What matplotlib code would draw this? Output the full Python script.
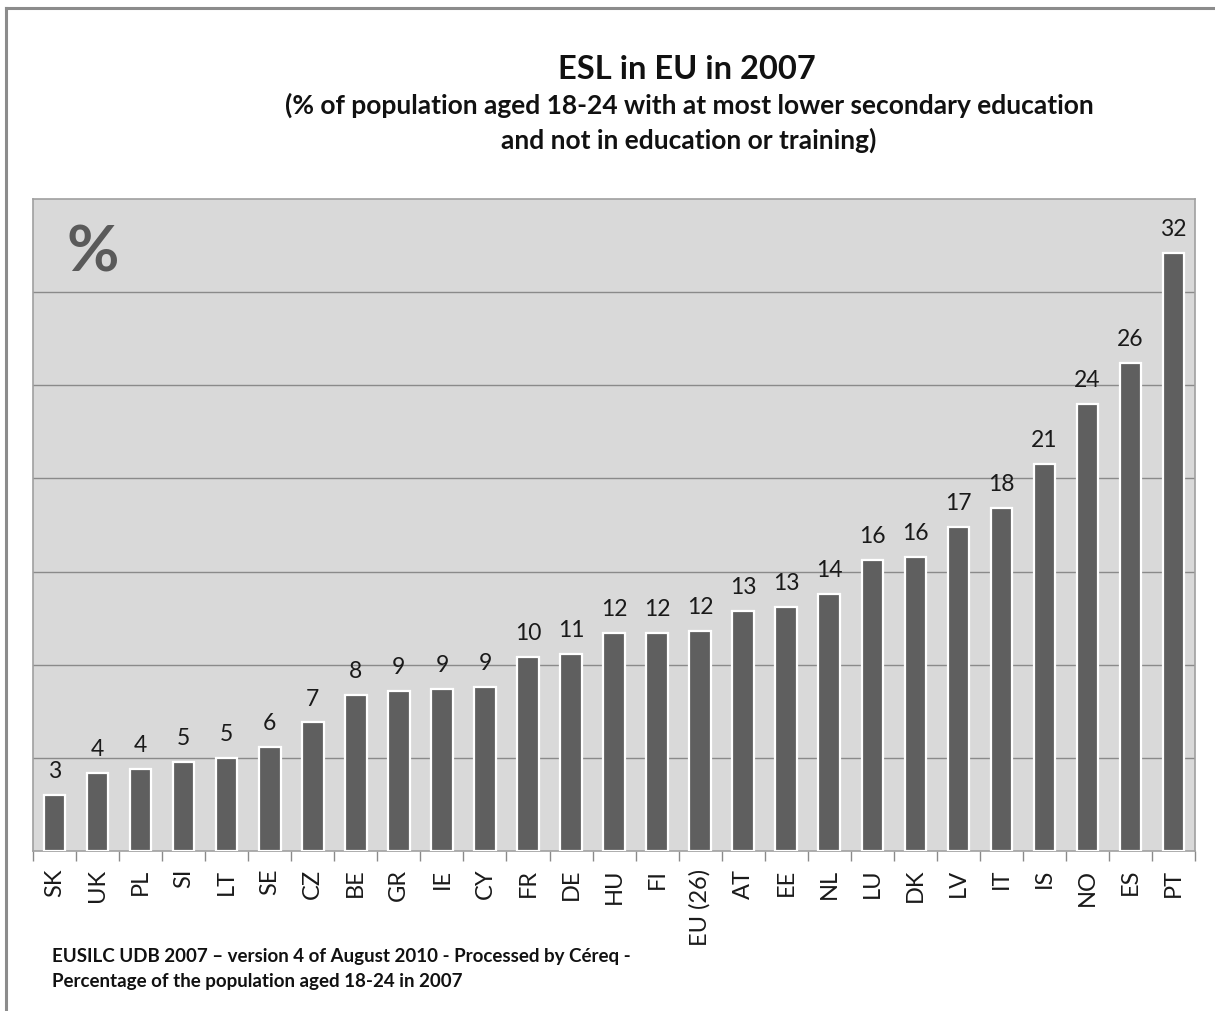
import numpy as np
import matplotlib.pyplot as plt
from matplotlib.lines import Line2D

plt.rcParams['font.family'] = ['Lato', 'DejaVu Sans']

countries = ['SK', 'UK', 'PL', 'SI', 'LT', 'SE', 'CZ', 'BE', 'GR', 'IE', 'CY',
             'FR', 'DE', 'HU', 'FI', 'EU (26)', 'AT', 'EE', 'NL', 'LU', 'DK',
             'LV', 'IT', 'IS', 'NO', 'ES', 'PT']
esl = [3.0, 4.2, 4.4, 4.8, 5.0, 5.6, 6.9, 8.4, 8.6, 8.7, 8.8,
       10.4, 10.6, 11.7, 11.7, 11.8, 12.9, 13.1, 13.8, 15.6, 15.8,
       17.4, 18.4, 20.8, 24.0, 26.2, 32.1]

fig = plt.figure(figsize=(12.15, 10.12), dpi=100)
ax = fig.add_axes([0.0272, 0.1581, 0.9564, 0.6443])

x = np.arange(len(countries))
ax.bar(x, esl, width=0.5, color='#5f5f5f', edgecolor='white', linewidth=1.6, zorder=3)

for xi, v in zip(x, esl):
    ax.annotate(str(int(v + 0.5)), (xi, v), xytext=(0, 10), textcoords='offset points',
                ha='center', va='bottom', fontsize=16.5, color='#1a1a1a')

ax.set_xlim(-0.5, len(countries) - 0.5)
ax.set_ylim(0, 35)
ax.set_facecolor('#d9d9d9')
ax.set_yticks(np.arange(5, 35, 5))
ax.yaxis.grid(True, color='#8a8a8a', linewidth=1)
ax.tick_params(axis='y', left=False, labelleft=False)

# ticks sit on the category boundaries, labels in the middle
ax.set_xticks(x)
ax.set_xticklabels(countries, rotation=90, fontsize=17, color='#1a1a1a')
ax.tick_params(axis='x', length=0, pad=12)
ax.set_xticks(np.arange(-0.5, len(countries), 1), minor=True)
ax.tick_params(axis='x', which='minor', length=7, color='#8a8a8a', width=1)

for side in ax.spines.values():
    side.set_color('#a0a0a0')
    side.set_linewidth(1.2)

ax.text(0.029, 0.962, '%', transform=ax.transAxes, ha='left', va='top',
        fontsize=46, fontweight='bold', color='#5a5a5a')

fig.text(0.565, 0.931, 'ESL in EU in 2007', ha='center', va='center',
         fontsize=23.5, fontweight='bold', color='#111111')
fig.text(0.567, 0.879, '(% of population aged 18-24 with at most lower secondary education\nand not in education or training)',
         ha='center', va='center', fontsize=19, fontweight='bold', color='#111111',
         linespacing=1.45)

fig.text(0.043, 0.022, 'EUSILC UDB 2007 \u2013 version 4 of August 2010 - Processed by C\u00e9req -\n'
         'Percentage of the population aged 18-24 in 2007',
         ha='left', va='bottom', fontsize=13.5, fontweight='bold', color='#111111',
         linespacing=1.55)

# frame lines along the top and left of the figure
fig.add_artist(Line2D([0.005, 1.0], [0.9911, 0.9911], transform=fig.transFigure,
                      color='#8c8c8c', linewidth=2.2))
fig.add_artist(Line2D([0.005, 0.005], [0.0, 0.9911], transform=fig.transFigure,
                      color='#8c8c8c', linewidth=2.2))

fig.savefig('out.png', dpi=100)
